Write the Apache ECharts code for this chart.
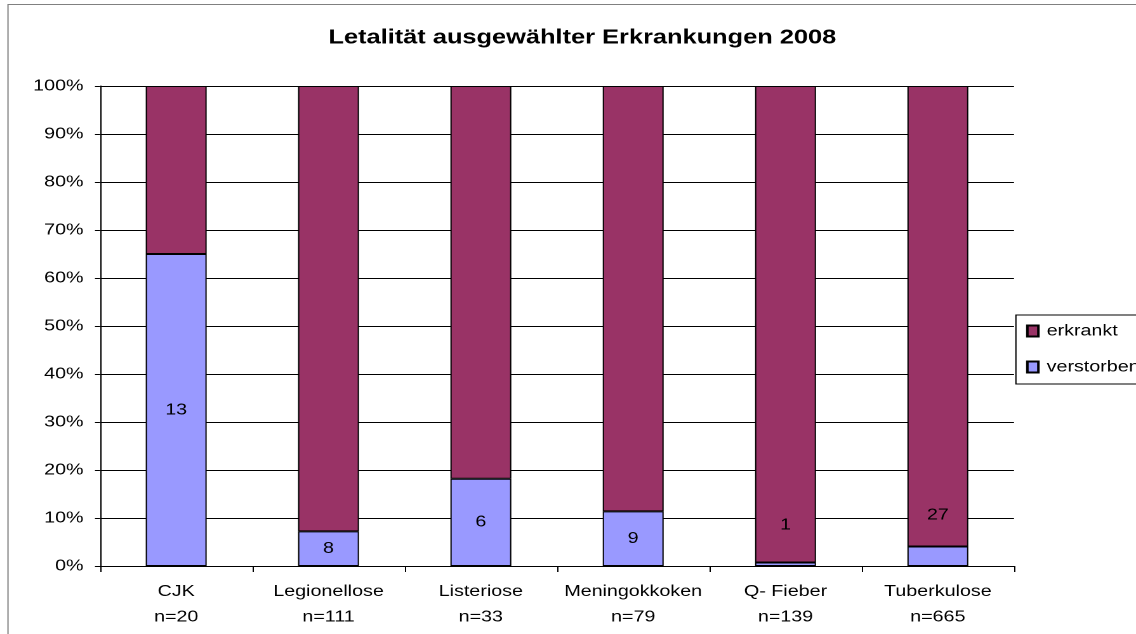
<!DOCTYPE html>
<html><head>
<meta charset="utf-8">
<title>Letalität 2008</title>
<script src="https://cdn.jsdelivr.net/npm/echarts@6/dist/echarts.min.js"></script>
<style>
html,body{margin:0;padding:0;background:#fff;overflow:hidden;}
/* Original ist horizontal gestreckt: Chart schmaler rendern und per CSS auf 1136px ziehen */
#main{width:895px;height:634px;transform:scaleX(1.26927);transform-origin:0 0;}
</style>
</head>
<body>
<div id="main"></div>
<script type="text/javascript">
// Daten
var krankheiten = ['CJK', 'Legionellose', 'Listeriose', 'Meningokkoken', 'Q- Fieber', 'Tuberkulose'];
var fallzahl = [20, 111, 33, 79, 139, 665];
var verstorben = [13, 8, 6, 9, 1, 27];
var yTicks = ['0%', '10%', '20%', '30%', '40%', '50%', '60%', '70%', '80%', '90%', '100%'];
// Labelverschiebung wie im Original (bei sehr kleinen Segmenten)
var labelOffset = [0, 0, 0, 0, -39, -41];

var font = 'Liberation Sans, Arial, sans-serif';

var kategorien = krankheiten.map(function (k, i) { return k + '\nn=' + fallzahl[i]; });
var anteilTot = verstorben.map(function (v, i) {
    return {
        value: v / fallzahl[i] * 100,
        label: { offset: [0, labelOffset[i]] }
    };
});
var anteilKrank = verstorben.map(function (v, i) { return (fallzahl[i] - v) / fallzahl[i] * 100; });

var myChart = echarts.init(document.getElementById('main'), null, { devicePixelRatio: 2 });

var option = {
    animation: false,
    textStyle: { fontFamily: font },
    title: {
        text: 'Letalität ausgewählter Erkrankungen 2008',
        left: 453.8,
        textAlign: 'center',
        top: 23,
        textStyle: { fontFamily: font, fontSize: 20, fontWeight: 'bold', color: '#000' }
    },
    graphic: [{
        type: 'rect',
        shape: { x: 6.3, y: 4.5, width: 1000, height: 700 },
        style: { fill: 'none', stroke: '#808080', lineWidth: 1 },
        silent: true
    }],
    legend: {
        data: ['erkrankt', 'verstorben'],
        orient: 'vertical',
        left: 800.4,
        top: 315,
        padding: [8, 60, 9, 8],
        itemGap: 20,
        itemWidth: 8.7,
        itemHeight: 11,
        icon: 'rect',
        borderColor: '#000',
        borderWidth: 1,
        textStyle: { fontFamily: font, fontSize: 15.5, color: '#000', padding: [0, 0, 0, 1.5] }
    },
    grid: { left: 78.8, right: 96.1, top: 86, bottom: 68, containLabel: false },
    xAxis: {
        type: 'category',
        data: kategorien,
        axisLine: { lineStyle: { color: '#000', width: 1 } },
        axisTick: { show: true, length: 6, lineStyle: { color: '#000' } },
        axisLabel: { color: '#000', fontSize: 15.5, fontFamily: font, lineHeight: 25.5, margin: 13, interval: 0 },
        splitLine: { show: false }
    },
    yAxis: {
        type: 'value',
        min: 0,
        max: 100,
        interval: 10,
        axisLine: { show: true, lineStyle: { color: '#000', width: 1 } },
        axisTick: { show: true, length: 4, lineStyle: { color: '#000' } },
        axisLabel: {
            color: '#000', fontSize: 15.5, fontFamily: font, margin: 13,
            formatter: function (v) { return yTicks[Math.round(v / 10)]; }
        },
        splitLine: { show: true, lineStyle: { color: '#000', width: 1 } }
    },
    series: [
        {
            name: 'verstorben',
            type: 'bar',
            stack: 'gesamt',
            barCategoryGap: '60%',
            data: anteilTot,
            itemStyle: { color: '#9999FF', borderColor: '#000', borderWidth: 1 },
            label: {
                show: true,
                position: 'inside',
                color: '#000',
                fontSize: 15.5,
                fontFamily: font,
                formatter: function (p) { return verstorben[p.dataIndex]; }
            }
        },
        {
            name: 'erkrankt',
            type: 'bar',
            stack: 'gesamt',
            barCategoryGap: '60%',
            data: anteilKrank,
            itemStyle: { color: '#993366', borderColor: '#000', borderWidth: 1 }
        }
    ]
};

myChart.setOption(option);
</script>
</body>
</html>
